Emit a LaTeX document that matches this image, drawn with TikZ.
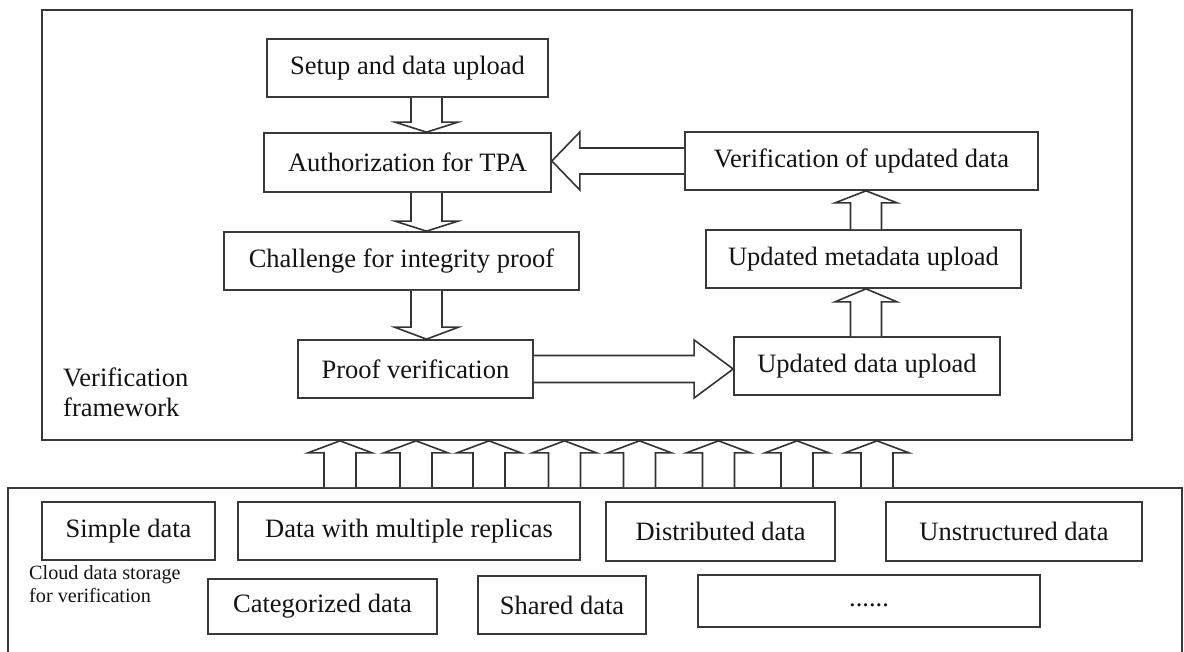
\documentclass[tikz,border=0pt]{standalone}
\usepackage{fontspec}
\setmainfont{Liberation Serif}
\usetikzlibrary{calc}

% vertical block arrow from (#1) to (#2):
% shaft half-width #3, head half-width #4, head length #5 (all in pt)
\newcommand\vblk[5]{%
  \draw[blk] let \p1=(#1), \p2=(#2), \n1={(\y1-\y2)/abs(\y1-\y2)} in
    (\x1-#3pt,\y1) -- (\x1-#3pt,{\y2+\n1*#5pt}) -- (\x1-#4pt,{\y2+\n1*#5pt})
    -- (\x1,\y2) -- (\x1+#4pt,{\y2+\n1*#5pt}) -- (\x1+#3pt,{\y2+\n1*#5pt})
    -- (\x1+#3pt,\y1);}
% horizontal block arrow from (#1) to (#2), same parameters
\newcommand\hblk[5]{%
  \draw[blk] let \p1=(#1), \p2=(#2), \n1={(\x1-\x2)/abs(\x1-\x2)} in
    (\x1,\y1-#3pt) -- ({\x2+\n1*#5pt},\y1-#3pt) -- ({\x2+\n1*#5pt},\y1-#4pt)
    -- (\x2,\y1) -- ({\x2+\n1*#5pt},\y1+#4pt) -- ({\x2+\n1*#5pt},\y1+#3pt)
    -- (\x1,\y1+#3pt);}

\begin{document}
\begin{tikzpicture}[x=1pt,y=-1pt,
  frame/.style={draw=black!78, line width=1.7pt, inner sep=0pt},
  box/.style={draw=black!78, line width=1.7pt, inner sep=0pt, text=black!92,
              font=\fontsize{26.5}{30}\selectfont},
  blk/.style={draw=black!80, line width=1.6pt, fill=white, line join=miter},
  lbl/.style={inner sep=0pt, text=black!92, anchor=base west,
              font=\fontsize{26.5}{30}\selectfont},
  smalllbl/.style={inner sep=0pt, text=black!92, anchor=base west,
              font=\fontsize{20.2}{23}\selectfont}]
\clip (0,0) rectangle (1184,652);
\fill[white] (0,0) rectangle (1184,652);

% outer frames
\node[frame, minimum width=1090pt, minimum height=430pt] (verfw) at (587,225) {};
\node[frame, minimum width=1174pt, minimum height=200pt] (cloud) at (595,588) {};

% verification flow, left column
\node[box, minimum width=281pt, minimum height=58pt] (setup) at (407.5,68) {Setup and data upload};
\node[box, minimum width=287pt, minimum height=59pt] (auth) at (407.5,162.5) {Authorization for TPA};
\node[box, minimum width=355pt, minimum height=58pt] (chal) at (401.5,261) {Challenge for integrity proof};
\node[box, minimum width=235pt, minimum height=58pt] (proof) at (415.5,369) {Proof verification};

% update flow, right column
\node[box, minimum width=353pt, minimum height=58pt] (verif) at (861.5,161) {Verification of updated data};
\node[box, minimum width=315pt, minimum height=58pt] (meta) at (863.5,259) {Updated metadata upload};
\node[box, minimum width=266pt, minimum height=58pt] (upd) at (867,366) {Updated data upload};

\node[lbl] (vf1) at (63,387) {Verification};
\node[lbl] (vf2) at (63,417) {framework};

% data kinds in the storage layer
\node[box, minimum width=173pt, minimum height=58pt] (simple) at (128.5,531) {Simple data};
\node[box, minimum width=342pt, minimum height=58pt] (repl) at (409,531) {Data with multiple replicas};
\node[box, minimum width=229pt, minimum height=59pt] (distr) at (720.5,531.5) {Distributed data};
\node[box, minimum width=256pt, minimum height=59pt] (unstr) at (1014,531.5) {Unstructured data};
\node[box, minimum width=229pt, minimum height=55pt] (categ) at (322.5,606.5) {Categorized data};
\node[box, minimum width=168pt, minimum height=58pt] (shared) at (562,605) {Shared data};
\node[box, minimum width=342pt, minimum height=52pt] (more) at (869,601) {\vphantom{Ag}......};

\node[smalllbl] (cl1) at (29,579) {Cloud data storage};
\node[smalllbl] (cl2) at (29,602) {for verification};

% arrows of the left column
\coordinate (ax) at (426.5,0);
\vblk{setup.south -| ax}{auth.north -| ax}{15.5}{31.5}{10}
\vblk{auth.south -| ax}{chal.north -| ax}{15.5}{31.5}{10}
\vblk{chal.south -| ax}{proof.north -| ax}{15.5}{32}{12}

% arrows of the right column
\coordinate (bx) at (866,0);
\vblk{upd.north -| bx}{meta.south -| bx}{15.5}{31}{13}
\vblk{meta.north -| bx}{verif.south -| bx}{15.5}{31}{12}

% cross arrows
\hblk{verif.west}{auth.east |- verif.west}{13}{29}{28}
\hblk{proof.east}{upd.west |- proof.east}{13.5}{29}{39}

% storage layer feeding the framework
\foreach \xx [count=\i] in {340,416,489,564.5,639.5,718.5,797,877}{
  \coordinate (u\i) at (\xx,0);
  \vblk{cloud.north -| u\i}{verfw.south -| u\i}{16}{32}{12}
}
\end{tikzpicture}
\end{document}
